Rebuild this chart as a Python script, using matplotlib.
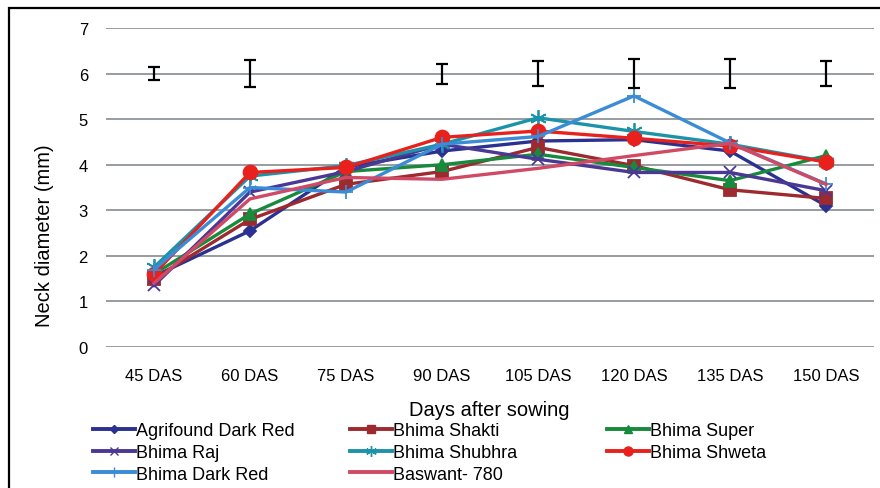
import numpy as np
import matplotlib
matplotlib.use("Agg")
import matplotlib.pyplot as plt
from matplotlib.lines import Line2D
from matplotlib.patches import Rectangle

plt.rcParams['font.family'] = ['Liberation Sans', 'DejaVu Sans']

days = ["45 DAS", "60 DAS", "75 DAS", "90 DAS", "105 DAS", "120 DAS", "135 DAS", "150 DAS"]

agrifound_dark_red = [1.55, 2.55, 3.95, 4.30, 4.52, 4.55, 4.30, 3.10]
bhima_shakti = [1.50, 2.80, 3.57, 3.85, 4.38, 3.98, 3.45, 3.26]
bhima_super = [1.60, 2.92, 3.85, 4.00, 4.23, 3.94, 3.65, 4.20]
bhima_raj = [1.35, 3.40, 3.85, 4.45, 4.12, 3.83, 3.83, 3.43]
bhima_shubhra = [1.75, 3.75, 3.98, 4.45, 5.03, 4.73, 4.45, 4.07]
bhima_shweta = [1.60, 3.83, 3.94, 4.60, 4.74, 4.58, 4.41, 4.06]
bhima_dark_red = [1.70, 3.50, 3.40, 4.45, 4.62, 5.51, 4.48, 3.58]
baswant_780 = [1.40, 3.25, 3.72, 3.68, 3.92, 4.20, 4.47, 3.57]

# vertical bars drawn at the 6 mm line (none at 75 DAS)
bar_centre = 6
bar_half = [0.14, 0.30, 0, 0.22, 0.27, 0.32, 0.32, 0.28]

series = [
    ("Agrifound Dark Red", agrifound_dark_red, "#2B3190", "D", 6),
    ("Bhima Shakti", bhima_shakti, "#9C2A2E", "s", 8),
    ("Bhima Super", bhima_super, "#178A3C", "^", 8),
    ("Bhima Raj", bhima_raj, "#4B3894", "x", 9),
    ("Bhima Shubhra", bhima_shubhra, "#1C93A8", (6, 2, 0), 12),
    ("Bhima Shweta", bhima_shweta, "#E8211D", "o", 10),
    ("Bhima Dark Red", bhima_dark_red, "#3A8CD6", "+", 10),
    ("Baswant- 780", baswant_780, "#D04A66", None, 0),
]

fig = plt.figure(figsize=(8.8, 4.89), dpi=100)
ax = fig.add_axes([106 / 880, 1 - 348 / 489, 768 / 880, 319 / 489])

x = np.arange(len(days))
handles = {}
for name, vals, col, mk, ms in series:
    ax.plot(x, vals, color=col, lw=2.4, marker=mk, markersize=ms,
            markeredgewidth=1.3, zorder=3)
    handles[name] = Line2D([], [], color=col, lw=2.8, marker=mk,
                           markersize=ms * 0.65, markeredgewidth=1.0)

xe = [i for i in range(len(days)) if bar_half[i] > 0]
ye = [bar_half[i] for i in xe]
ax.errorbar(xe, [bar_centre] * len(xe), yerr=ye, fmt='none', ecolor='black',
            elinewidth=1.6, capsize=4.5, capthick=1.6, zorder=4)

ax.set_xlim(-0.5, len(days) - 0.5)
ax.set_ylim(0, 7)
ax.set_yticks(range(0, 8))
ax.set_xticks(x)
ax.set_xticklabels(days, fontsize=12)
ax.tick_params(axis='y', labelsize=12, length=0, pad=13)
ax.tick_params(axis='x', length=0, pad=15)
ax.grid(axis='y', color='#8E9499', lw=1.3)
ax.set_axisbelow(True)
for s in ax.spines.values():
    s.set_visible(False)

fig.text(45 / 880, 1 - 236 / 489, "Neck diameter (mm)", rotation=90,
         ha='center', va='center', fontsize=14.5)
fig.text(489 / 880, 1 - 411 / 489, "Days after sowing", ha='center',
         va='center', fontsize=14.5)

# legend laid out as three fixed-width columns
columns = [
    ["Agrifound Dark Red", "Bhima Raj", "Bhima Dark Red"],
    ["Bhima Shakti", "Bhima Shubhra", "Baswant- 780"],
    ["Bhima Super", "Bhima Shweta"],
]
col_left = [93, 350, 607]
for names, left in zip(columns, col_left):
    leg = fig.legend([handles[n] for n in names], names, loc='upper left',
                     bbox_to_anchor=(left / 880, 1 - 423 / 489),
                     frameon=False, fontsize=13, handlelength=2.3,
                     handletextpad=0.1, labelspacing=0.27, borderpad=0,
                     borderaxespad=0)

fig.patches.append(Rectangle((9 / 880, -0.1), 1.0, 1 - 9 / 489 + 0.1,
                             transform=fig.transFigure, fill=False,
                             edgecolor='black', lw=1.6))

fig.savefig("out.png", dpi=100)
